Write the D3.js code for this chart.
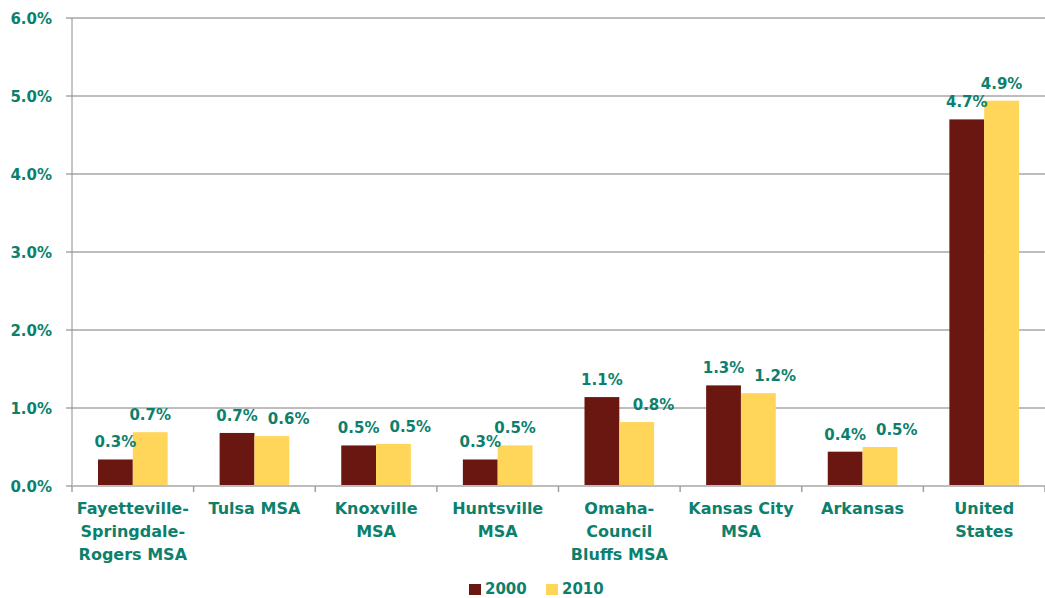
<!DOCTYPE html>
<html>
<head>
<meta charset="utf-8">
<script src="https://cdn.jsdelivr.net/npm/d3@7"></script>
<style>
  html, body { margin: 0; padding: 0; background: #fff; }
  svg { display: block; font-family: "DejaVu Sans", "Open Sans", sans-serif; font-weight: 700; }
</style>
</head>
<body>
<svg id="chart" width="1045" height="598"></svg>
<script>
// Share of population, 2000 vs 2010
const categories = [
  "Fayetteville-\nSpringdale-\nRogers MSA",
  "Tulsa MSA",
  "Knoxville\nMSA",
  "Huntsville\nMSA",
  "Omaha-\nCouncil\nBluffs MSA",
  "Kansas City\nMSA",
  "Arkansas",
  "United\nStates"
];
const seriesNames = ["2000", "2010"];
const values2000 = [0.34, 0.68, 0.52, 0.34, 1.14, 1.29, 0.44, 4.70];
const values2010 = [0.69, 0.64, 0.54, 0.52, 0.82, 1.19, 0.50, 4.94];
const yTicks = [0, 1, 2, 3, 4, 5, 6];

const colors = { "2000": "#6b1711", "2010": "#ffd55a" };
const textColor = "#0d7f6d";
const valueFont = 15;

const svg = d3.select("#chart");
const margin = { left: 72, right: 0, top: 18, bottom: 112 };
const W = 1045, H = 598;
const x0 = margin.left, x1 = W - margin.right;
const yTop = margin.top, yBot = H - margin.bottom;

const x = d3.scaleBand().domain(d3.range(categories.length)).range([x0, x1]);
const inner = d3.scaleBand().domain(seriesNames).range([26, x.bandwidth() - 26]);
const y = d3.scaleLinear().domain([0, 6]).range([yBot, yTop]);

// horizontal gridlines with small ticks left of the axis
svg.append("g").selectAll("line").data(yTicks).join("line")
  .attr("x1", x0 - 6).attr("x2", x1)
  .attr("y1", d => y(d)).attr("y2", d => y(d))
  .attr("stroke", "#bdbdbd").attr("stroke-width", 2);

// y tick labels
svg.append("g").selectAll("text").data(yTicks).join("text")
  .attr("x", 52).attr("y", d => y(d) + 6)
  .attr("text-anchor", "end")
  .attr("fill", textColor).attr("font-size", 15)
  .text(d => d.toFixed(1) + "%");

// bars
const rows = categories.map((c, i) => ({ i, vals: [
  { key: "2000", v: values2000[i] }, { key: "2010", v: values2010[i] }
]}));
const groups = svg.append("g").selectAll("g").data(rows).join("g")
  .attr("transform", d => `translate(${x(d.i)},0)`);
groups.selectAll("rect").data(d => d.vals).join("rect")
  .attr("x", d => inner(d.key)).attr("width", inner.bandwidth())
  .attr("y", d => y(d.v)).attr("height", d => y(0) - y(d.v))
  .attr("fill", d => colors[d.key]);

// value labels: centred above each bar; the 2010 label is pushed right
// when it would sit level with (or below) the 2000 label
groups.each(function(d) {
  const g = d3.select(this);
  const labels = d.vals.map(e => g.append("text")
    .attr("x", inner(e.key) + inner.bandwidth() / 2)
    .attr("y", y(e.v) - 12)
    .attr("text-anchor", "middle")
    .attr("fill", textColor).attr("font-size", valueFont)
    .text(e.v.toFixed(1) + "%"));
  const a = labels[0].node().getBBox();
  const b = labels[1].node().getBBox();
  const baseA = y(d.vals[0].v) - 12, baseB = y(d.vals[1].v) - 12;
  if (baseB > baseA - valueFont * 0.8) {
    const minLeft = a.x + a.width + 10;
    if (b.x < minLeft) {
      labels[1].attr("x", +labels[1].attr("x") + (minLeft - b.x));
    }
  }
});

// y axis line
svg.append("line").attr("x1", x0).attr("x2", x0).attr("y1", yTop).attr("y2", yBot + 1)
  .attr("stroke", "#8c8c8c").attr("stroke-width", 1);

// x axis line and tick marks between categories
svg.append("line").attr("x1", x0).attr("x2", x1).attr("y1", yBot).attr("y2", yBot)
  .attr("stroke", "#bdbdbd").attr("stroke-width", 2);
svg.append("g").selectAll("line").data(d3.range(categories.length + 1)).join("line")
  .attr("x1", i => x0 + i * x.bandwidth()).attr("x2", i => x0 + i * x.bandwidth())
  .attr("y1", yBot).attr("y2", yBot + 6)
  .attr("stroke", "#a0a0a0").attr("stroke-width", 1.5);

// category labels
svg.append("g").selectAll("text").data(categories).join("text")
  .attr("x", (d, i) => x(i) + x.bandwidth() / 2)
  .attr("y", yBot + 28)
  .attr("text-anchor", "middle")
  .attr("fill", textColor).attr("font-size", 16)
  .each(function(d) {
    const t = d3.select(this);
    d.split("\n").forEach((line, k) => {
      t.append("tspan").attr("x", t.attr("x")).attr("dy", k === 0 ? 0 : 23).text(line);
    });
  });

// legend
const legend = svg.append("g").attr("transform", "translate(469,583)");
const legendItems = legend.selectAll("g").data(seriesNames).join("g")
  .attr("transform", (d, i) => `translate(${i * 77},0)`);
legendItems.append("rect").attr("y", 1).attr("width", 12).attr("height", 11).attr("fill", d => colors[d]);
legendItems.append("text").attr("x", 16).attr("y", 11)
  .attr("fill", textColor).attr("font-size", 15).text(d => d);
</script>
</body>
</html>
